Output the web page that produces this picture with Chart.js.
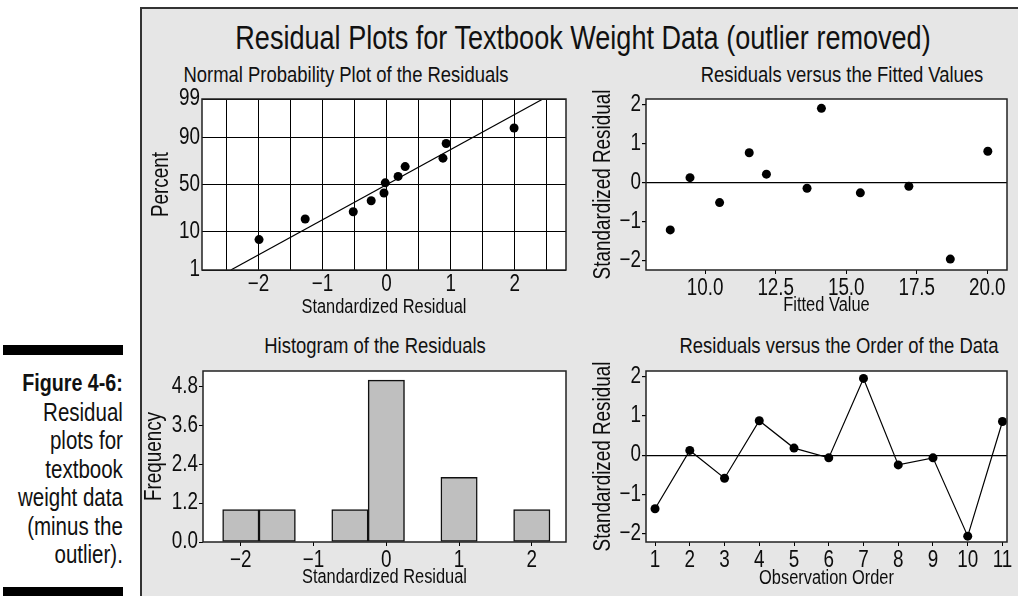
<!DOCTYPE html>
<html><head><meta charset="utf-8">
<script src="https://cdn.jsdelivr.net/npm/chart.js@4/dist/chart.umd.min.js"></script>
<style>
html,body{margin:0;padding:0;background:#fff;width:1018px;height:596px;overflow:hidden;}
body{position:relative;font-family:"Liberation Sans",Arial,sans-serif;color:#111;}
#panel{position:absolute;left:140px;top:7px;width:880px;height:592px;background:#e6e6e6;border-left:2px solid #333;border-top:2px solid #333;box-sizing:border-box;}
.t{position:absolute;white-space:nowrap;transform:translate(-50%,-50%) scaleX(0.82);line-height:1;}
canvas{position:absolute;}
.bar{position:absolute;left:3px;width:120px;height:10px;background:#000;}
#cap{position:absolute;right:895px;top:368px;text-align:right;font-size:25px;line-height:28.5px;white-space:nowrap;transform:scaleX(0.82);transform-origin:right center;}
#cap b{font-size:24px;}
</style></head>
<body>
<div class="bar" style="top:345px"></div>
<div class="bar" style="top:587px"></div>
<div id="cap"><b>Figure 4-6:</b><br>Residual<br>plots for<br>textbook<br>weight data<br>(minus the<br>outlier).</div>
<div id="panel"></div>
<div class="t" style="left:583px;top:37px;font-size:33px">Residual Plots for Textbook Weight Data (outlier removed)</div>
<div class="t" style="left:346px;top:75px;font-size:22.5px">Normal Probability Plot of the Residuals</div>
<div class="t" style="left:842px;top:75px;font-size:22.5px">Residuals versus the Fitted Values</div>
<div class="t" style="left:375px;top:346px;font-size:22.5px">Histogram of the Residuals</div>
<div class="t" style="left:839px;top:346px;font-size:22.5px">Residuals versus the Order of the Data</div>
<canvas id="c1"></canvas><canvas id="c2"></canvas><canvas id="c3"></canvas><canvas id="c4"></canvas>
<script>
// ---------- data ----------
const npResid   = [-1.99, -1.27, -0.52, -0.24, -0.04, -0.02, 0.18, 0.29, 0.88, 0.93, 1.99];
const npPercent = [6.7, 17.4, 22.9, 32.9, 40.9, 51.8, 58.7, 68.7, 76.3, 86.8, 93.8];
const npFitResid = [-2.43, 2.44];
const npFitPercent = [1, 99];
const npXTicks  = [-2.5, -2, -1.5, -1, -0.5, 0, 0.5, 1, 1.5, 2, 2.5];
const npXLabels = ['', '−2', '', '−1', '', '0', '', '1', '', '2', ''];
const probTicks = [1, 10, 50, 90, 99];

const fittedValues = [8.76, 9.46, 10.51, 11.56, 12.17, 13.61, 14.12, 15.50, 17.22, 18.69, 20.02];
const fittedResid  = [-1.22, 0.12, -0.52, 0.76, 0.21, -0.15, 1.90, -0.27, -0.10, -1.97, 0.80];
const fitXTicks  = [10, 12.5, 15, 17.5, 20];
const fitXLabels = ['10.0', '12.5', '15.0', '17.5', '20.0'];
const residTicks  = [-2, -1, 0, 1, 2];
const residLabels = ['−2', '−1', '0', '1', '2'];

const histBins  = [-2, -1.5, -1, -0.5, 0, 0.5, 1, 1.5, 2];
const histFreq  = [1, 1, 0, 1, 5, 0, 2, 0, 1];
const histXTicks  = [-2, -1, 0, 1, 2];
const histXLabels = ['−2', '−1', '0', '1', '2'];
const histYTicks  = [0, 1.2, 2.4, 3.6, 4.8];
const histYLabels = ['0.0', '1.2', '2.4', '3.6', '4.8'];

const obsOrder = [1, 2, 3, 4, 5, 6, 7, 8, 9, 10, 11];
const orderResid = [-1.37, 0.12, -0.59, 0.88, 0.18, -0.07, 1.96, -0.25, -0.07, -2.07, 0.86];
const orderLabels = ['1','2','3','4','5','6','7','8','9','10','11'];

// ---------- helpers ----------
function probit(p){
  const a=[-3.969683028665376e+01,2.209460984245205e+02,-2.759285104469687e+02,1.383577518672690e+02,-3.066479806614716e+01,2.506628277459239e+00];
  const b=[-5.447609879822406e+01,1.615858368580409e+02,-1.556989798598866e+02,6.680131188771972e+01,-1.328068155288572e+01];
  const c=[-7.784894002430293e-03,-3.223964580411365e-01,-2.400758277161838e+00,-2.549732539343734e+00,4.374664141464968e+00,2.938163982698783e+00];
  const d=[7.784695709041462e-03,3.224671290700398e-01,2.445134137142996e+00,3.754408661907416e+00];
  const pl=0.02425; let q,r;
  if(p<pl){q=Math.sqrt(-2*Math.log(p));return (((((c[0]*q+c[1])*q+c[2])*q+c[3])*q+c[4])*q+c[5])/((((d[0]*q+d[1])*q+d[2])*q+d[3])*q+1);}
  if(p<=1-pl){q=p-0.5;r=q*q;return (((((a[0]*r+a[1])*r+a[2])*r+a[3])*r+a[4])*r+a[5])*q/(((((b[0]*r+b[1])*r+b[2])*r+b[3])*r+b[4])*r+1);}
  q=Math.sqrt(-2*Math.log(1-p));return -(((((c[0]*q+c[1])*q+c[2])*q+c[3])*q+c[4])*q+c[5])/((((d[0]*q+d[1])*q+d[2])*q+d[3])*q+1);
}
const FAM = '"Liberation Sans",Arial,sans-serif';
const NARROW = 0.82;
const INK = '#0d0d0d';
Chart.defaults.font.family = FAM;
Chart.defaults.color = INK;
Chart.defaults.animation = false;

// condensed text: Chart.js still lays out and draws every label; glyphs are squeezed horizontally
function condense(ctx, k){
  const orig = ctx.fillText.bind(ctx);
  ctx.fillText = function(text, x, y, mw){
    ctx.save(); ctx.translate(x, y); ctx.scale(k, 1);
    if (mw === undefined) orig(text, 0, 0); else orig(text, 0, 0, mw / k);
    ctx.restore();
  };
}

const boxPlugin = {
  id: 'box',
  beforeDraw(chart){
    const {ctx, chartArea: a} = chart;
    ctx.save(); ctx.fillStyle = '#fff'; ctx.fillRect(a.left, a.top, a.right-a.left, a.bottom-a.top); ctx.restore();
  },
  afterDatasetsDraw(chart){
    const {ctx, chartArea: a} = chart;
    ctx.save(); ctx.strokeStyle = '#222'; ctx.lineWidth = 1.5;
    ctx.strokeRect(a.left, a.top, a.right-a.left, a.bottom-a.top); ctx.restore();
  }
};

function setTicks(values){ return s => { s.ticks = values.map(v => ({value: v})); }; }

function build(id, rect, area, cfg){
  const cv = document.getElementById(id);
  cv.style.left = rect.l + 'px'; cv.style.top = rect.t + 'px';
  cv.width = rect.w; cv.height = rect.h;
  cv.style.width = rect.w + 'px'; cv.style.height = rect.h + 'px';
  const ctx = cv.getContext('2d');
  condense(ctx, NARROW);
  cfg.options.responsive = false;
  cfg.options.maintainAspectRatio = false;
  cfg.options.devicePixelRatio = 1;
  cfg.options.layout = {padding: {left: 0, top: area.t - rect.t, right: rect.l + rect.w - area.r, bottom: 0}};
  cfg.options.plugins = Object.assign({legend: {display: false}, tooltip: {enabled: false}}, cfg.options.plugins || {});
  const xs = cfg.options.scales.x, ys = cfg.options.scales.y;
  xs.afterFit = s => { s.height = rect.t + rect.h - area.b; };
  ys.afterFit = s => { s.width = area.l - rect.l; };
  xs.border = {display: false}; ys.border = {display: false};
  xs.title.font = {family: FAM, size: 20}; xs.title.color = INK; xs.title.display = true;
  ys.title.font = {family: FAM, size: 23}; ys.title.color = INK; ys.title.display = true;
  xs.ticks = Object.assign({font: {family: FAM, size: 23}, color: INK, maxRotation: 0, autoSkip: false, padding: 1}, xs.ticks || {});
  ys.ticks = Object.assign({font: {family: FAM, size: 23}, color: INK, autoSkip: false, padding: 1}, ys.ticks || {});
  cfg.plugins = [boxPlugin];
  return new Chart(ctx, cfg);
}

const dotStyle = {pointRadius: 4.5, pointBackgroundColor: '#000', pointBorderColor: '#000', pointBorderWidth: 0, showLine: false, clip: false};

// ---------- Chart 1: normal probability plot ----------
const zMin = probit(probTicks[0]/100), zMax = probit(probTicks[probTicks.length-1]/100);
build('c1', {l:140, t:55, w:435, h:265}, {l:202, t:99, r:566, b:270}, {
  type: 'scatter',
  data: {datasets: [
    Object.assign({data: npResid.map((x,i) => ({x, y: probit(npPercent[i]/100)}))}, dotStyle),
    {data: npFitResid.map((x,i) => ({x, y: probit(npFitPercent[i]/100)})), showLine: true, borderColor: '#000', borderWidth: 1.2, pointRadius: 0}
  ]},
  options: {scales: {
    x: {type: 'linear', min: -2.88, max: 2.8, afterBuildTicks: setTicks(npXTicks),
        ticks: {callback: (v, i) => npXLabels[i]},
        grid: {color: '#000', lineWidth: 1, drawTicks: false},
        title: {text: 'Standardized Residual', padding: {top: 0, bottom: 1}}},
    y: {type: 'linear', min: zMin, max: zMax, afterBuildTicks: setTicks(probTicks.map(p => probit(p/100))),
        ticks: {callback: (v, i) => String(probTicks[i]), padding: 2},
        grid: {color: '#000', lineWidth: 1, drawTicks: false},
        title: {text: 'Percent', padding: {top: 8, bottom: 0}}}
  }}
});

// ---------- Chart 2: residuals vs fitted ----------
const zeroGrid = {color: c => (c.tick && c.tick.value === 0) ? '#000' : 'rgba(0,0,0,0)', tickColor: '#000', tickLength: 4, lineWidth: 1.2};
build('c2', {l:585, t:55, w:433, h:265}, {l:646, t:99, r:1007, b:270}, {
  type: 'scatter',
  data: {datasets: [Object.assign({data: fittedValues.map((x,i) => ({x, y: fittedResid[i]}))}, dotStyle)]},
  options: {scales: {
    x: {type: 'linear', min: 7.9, max: 20.7, afterBuildTicks: setTicks(fitXTicks),
        ticks: {callback: (v, i) => fitXLabels[i]},
        grid: {drawOnChartArea: false, tickColor: '#000', tickLength: 4},
        title: {text: 'Fitted Value', padding: {top: 0, bottom: 3}}},
    y: {type: 'linear', min: -2.25, max: 2.14, afterBuildTicks: setTicks(residTicks),
        ticks: {callback: (v, i) => residLabels[i]},
        grid: zeroGrid,
        title: {text: 'Standardized Residual', padding: {top: 5, bottom: 0}}}
  }}
});

// ---------- Chart 3: histogram ----------
build('c3', {l:140, t:330, w:435, h:266}, {l:203, t:371, r:566, b:542}, {
  type: 'bar',
  data: {datasets: [{
    data: histBins.map((x,i) => ({x, y: histFreq[i]})).filter(d => d.y > 0),
    backgroundColor: '#bfbfbf', borderColor: '#111', borderWidth: 1.5,
    barPercentage: 1, categoryPercentage: 1, borderSkipped: false
  }]},
  options: {scales: {
    x: {type: 'linear', offset: false, min: -2.52, max: 2.47, afterBuildTicks: setTicks(histXTicks),
        ticks: {callback: (v, i) => histXLabels[i]},
        grid: {offset: false, drawOnChartArea: false, tickColor: '#000', tickLength: 4},
        title: {text: 'Standardized Residual', padding: {top: 0, bottom: 7}}},
    y: {type: 'linear', min: 0, max: 5.28, afterBuildTicks: setTicks(histYTicks),
        ticks: {callback: (v, i) => histYLabels[i]},
        grid: {drawOnChartArea: false, tickColor: '#000', tickLength: 4},
        title: {text: 'Frequency', padding: {top: 1, bottom: 0}}}
  }}
});

// ---------- Chart 4: residuals vs order ----------
build('c4', {l:585, t:330, w:433, h:266}, {l:646, t:371, r:1007, b:542}, {
  type: 'scatter',
  data: {datasets: [Object.assign({}, dotStyle, {data: obsOrder.map((x,i) => ({x, y: orderResid[i]})), showLine: true, borderColor: '#000', borderWidth: 1.2})]},
  options: {scales: {
    x: {type: 'linear', min: 0.74, max: 11.13, afterBuildTicks: setTicks(obsOrder),
        ticks: {callback: (v, i) => orderLabels[i]},
        grid: {drawOnChartArea: false, tickColor: '#000', tickLength: 4},
        title: {text: 'Observation Order', padding: {top: 0, bottom: 6}}},
    y: {type: 'linear', min: -2.22, max: 2.15, afterBuildTicks: setTicks(residTicks),
        ticks: {callback: (v, i) => residLabels[i]},
        grid: zeroGrid,
        title: {text: 'Standardized Residual', padding: {top: 5, bottom: 0}}}
  }}
});
</script>
</body></html>
